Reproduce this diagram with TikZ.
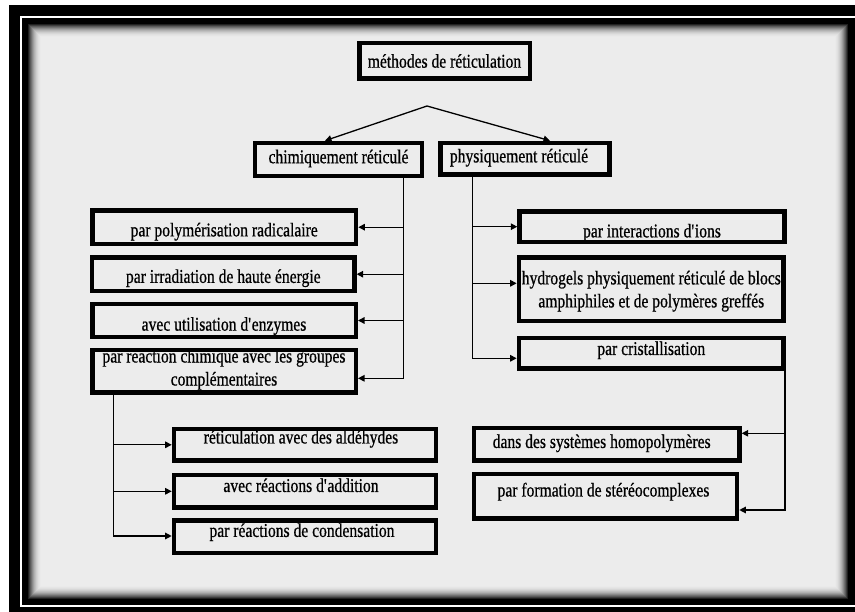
\documentclass[tikz,border=0pt]{standalone}
\usepackage{fontspec}
\setmainfont{Liberation Serif}[FakeStretch=0.8,FakeBold=0.7]
\usetikzlibrary{arrows.meta}
\definecolor{bg}{RGB}{236,236,236}
\begin{document}
\begin{tikzpicture}[x=1pt,y=-1pt,
  box/.style={draw=black, line width=4.5pt, fill=bg, inner sep=0pt},
  lbl/.style={inner sep=0pt, align=center, font=\fontsize{19.5}{23}\selectfont},
  conn/.style={line width=1.3pt},
  arr/.style={conn, -{Triangle[length=6.5pt,width=6.5pt]}}]
\useasboundingbox (0,0) rectangle (855,612);
% frame
\fill[white] (0,0) rectangle (855,612);
\fill[black] (9,5) rectangle (855,612);
\fill[white] (20,16) rectangle (855,607);
\fill[black] (22,18) rectangle (855,605);
\foreach \i in {0,...,14} {
  \pgfmathtruncatemacro\p{100*(1-(1-\i/14)^2)}
  \fill[bg!\p!black] (27+\i,23+\i) rectangle (849-\i,600-\i);
}
% nodes
\node[box, minimum width=170.5pt, minimum height=35.5pt, label={[lbl]center:méthodes de réticulation}] (top) at (444.5,61) {};
\node[box, minimum width=167.1pt, minimum height=33.1pt, label={[lbl,yshift=1pt]center:chimiquement réticulé}] (chem) at (338.5,159.5) {};
\node[box, minimum width=168.9pt, minimum height=31.5pt, label={[lbl,xshift=-6pt,yshift=1pt]center:physiquement réticulé}] (phys) at (525,158.7) {};
\node[box, minimum width=263.8pt, minimum height=33.2pt, label={[lbl,yshift=-4.5pt]center:par polymérisation radicalaire}] (poly) at (224.2,227.2) {};
\node[box, minimum width=262.2pt, minimum height=33.8pt, label={[lbl,yshift=-4pt]center:par irradiation de haute énergie}] (irr) at (223.3,274.2) {};
\node[box, minimum width=263.5pt, minimum height=33.1pt, label={[lbl,yshift=-5.5pt]center:avec utilisation d\textquotesingle enzymes}] (enz) at (224,320.5) {};
\node[box, minimum width=263.5pt, minimum height=42.8pt, label={[lbl,yshift=2pt]center:par réaction chimique avec les groupes\\complémentaires}] (rc) at (224,371.3) {};
\node[box, minimum width=264.9pt, minimum height=30.2pt, label={[lbl,yshift=-6pt]center:par interactions d\textquotesingle ions}] (ions) at (652,226.7) {};
\node[box, minimum width=264.8pt, minimum height=63.8pt, label={[lbl,yshift=-2pt]center:hydrogels physiquement réticulé de blocs\\amphiphiles et de polymères greffés}] (hydro) at (651.3,289.2) {};
\node[box, minimum width=264.8pt, minimum height=30.2pt, label={[lbl,yshift=3pt]center:par cristallisation}] (crist) at (651.3,353.3) {};
\node[box, minimum width=265.5pt, minimum height=32.2pt, label={[lbl,xshift=-5pt,yshift=1pt]center:dans des systèmes homopolymères}] (homo) at (606.7,444.3) {};
\node[box, minimum width=263.1pt, minimum height=44.5pt, label={[lbl,xshift=-2pt,yshift=4.5pt]center:par formation de stéréocomplexes}] (stereo) at (605.5,496.2) {};
\node[box, minimum width=262.1pt, minimum height=31.8pt, label={[lbl,xshift=-4pt,yshift=6pt]center:réticulation avec des aldéhydes}] (ald) at (305,444.8) {};
\node[box, minimum width=262.1pt, minimum height=32.8pt, label={[lbl,xshift=-4pt,yshift=6pt]center:avec réactions d\textquotesingle addition}] (add) at (305,491.3) {};
\node[box, minimum width=262.1pt, minimum height=32.2pt, label={[lbl,xshift=-3pt,yshift=4.5pt]center:par réactions de condensation}] (cond) at (305,536.7) {};
% connectors
\coordinate (apex) at (427,106);
\draw[arr] (apex) -- ([xshift=-13.5pt]chem.north);
\draw[arr] (apex) -- ([xshift=25pt]phys.north);
\coordinate (ct) at (403.3,378.3);
\draw[arr] (chem.south -| ct) -- (ct) -- (rc.east |- ct);
\draw[arr] (ct |- poly.east) -- (poly.east);
\draw[arr] (ct |- irr.east) -- (irr.east);
\draw[arr] (ct |- enz.east) -- (enz.east);
\coordinate (pk) at (472.7,358.3);
\coordinate (ph) at (472.7,283.3);
\draw[arr] (phys.south -| pk) -- (pk) -- (crist.west |- pk);
\draw[arr] (pk |- ions.west) -- (ions.west);
\draw[arr] (ph) -- (hydro.west |- ph);
\coordinate (kt) at (785,510);
\coordinate (kh) at (785,433.3);
\draw[arr] (crist.south -| kt) -- (kt) -- (stereo.east |- kt);
\draw[arr] (kh) -- (homo.east |- kh);
\coordinate (rt) at (113.3,536);
\draw[arr] (rc.south -| rt) -- (rt) -- (cond.west |- rt);
\draw[arr] (rt |- ald.west) -- (ald.west);
\draw[arr] (rt |- add.west) -- (add.west);
\end{tikzpicture}
\end{document}
